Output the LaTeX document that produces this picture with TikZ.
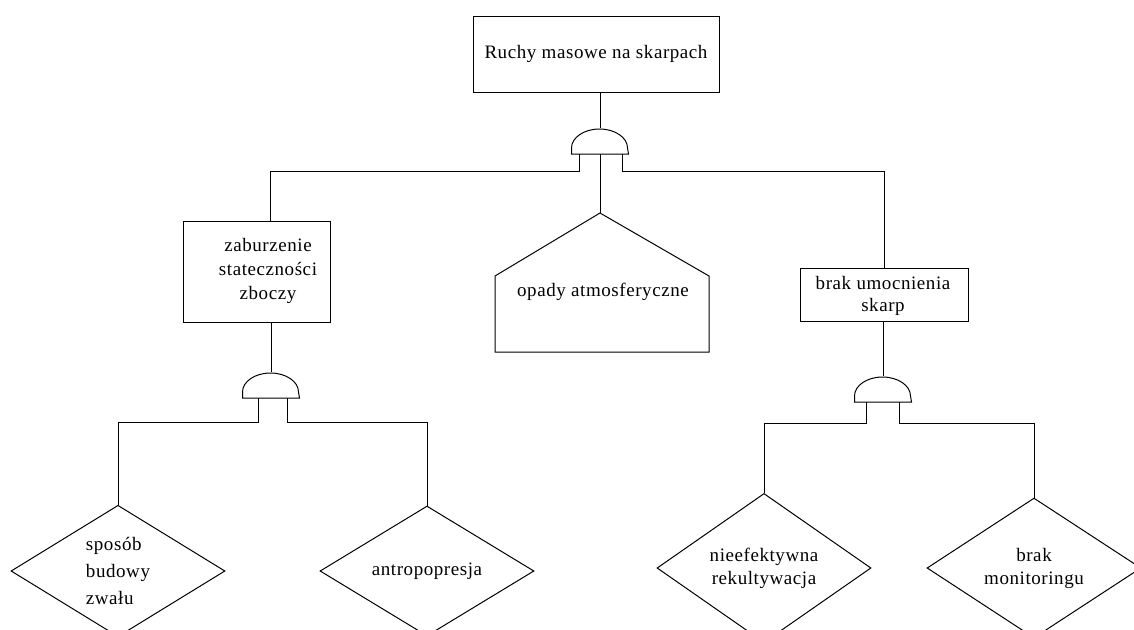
\documentclass[tikz,border=0pt]{standalone}
\usepackage{fontspec}
\setmainfont[LetterSpace=3]{Liberation Serif}
\usetikzlibrary{shapes.geometric}
\begin{document}
\begin{tikzpicture}[x=1pt,y=-1pt, line width=1pt,
  every node/.style={font=\fontsize{19}{24}\selectfont, inner sep=0pt},
  gate/.style={rectangle, minimum width=56pt, minimum height=25pt, anchor=north},
  basic/.style={draw, diamond, minimum width=214pt, minimum height=130pt},
  lbl/.style={align=center}]
\useasboundingbox (0,0) rectangle (1134,629);
\clip (0,0) rectangle (1134,629);
% top event
\node[draw, minimum width=246pt, minimum height=76pt] (top) at (596,54) {Ruchy masowe na skarpach};
\node[gate] (g1) at (600,128) {};
\draw (g1.south west) -- ++(0,-6) arc[start angle=180, end angle=0, x radius=28pt, y radius=19pt] -- (g1.south east) -- cycle;
\draw (g1.north) -- (g1.north |- top.south);
% intermediate events
\node[draw, minimum width=147pt, minimum height=101pt] (b2) at (256.5,271.5) {};
\node[lbl, font=\fontsize{19}{24}\selectfont] (t2) at (268,271) {zaburzenie\\stateczności\\zboczy};
\node[draw, minimum width=168pt, minimum height=53pt] (b3) at (884,294.5) {};
\node[lbl, font=\fontsize{19}{22}\selectfont] (t3) at (883,296) {brak umocnienia\\skarp};
% house / pentagon
\coordinate (ptop) at (600,213);
\draw (ptop) -- (495,276) -- (495,352) -- (709,352) -- (709,276) -- cycle;
\node (t4) at (603,292) {opady atmosferyczne};
% connectors from top gate
\draw ([xshift=-21pt]g1.south) -- ++(0,17) -| ([xshift=13.5pt]b2.north);
\draw ([xshift=22pt]g1.south) -- ++(0,17) -| (b3.north);
\draw (g1.south) -- (ptop);
% gate 2
\node[gate] (g2) at (271,372) {};
\draw (g2.south west) -- ++(0,-6) arc[start angle=180, end angle=0, x radius=28pt, y radius=19pt] -- (g2.south east) -- cycle;
\draw (g2.north) -- (g2.north |- b2.south);
% gate 3
\node[gate] (g3) at (883,376) {};
\draw (g3.south west) -- ++(0,-6) arc[start angle=180, end angle=0, x radius=28pt, y radius=19pt] -- (g3.south east) -- cycle;
\draw (g3.north) -- (g3.north |- b3.south);
% basic events
\node[basic, align=left, font=\fontsize{19}{27}\selectfont] (d1) at (118,571) {sposób\\budowy\\zwału};
\node[basic] (d2) at (427,571) {antropopresja};
\node[basic, align=center, font=\fontsize{19}{23}\selectfont] (d3) at (764,568) {nieefektywna\\rekultywacja};
\node[basic, align=center, font=\fontsize{19}{23}\selectfont] (d4) at (1034,568) {brak\\monitoringu};
\draw ([xshift=-13pt]g2.south) -- ++(0,24) -| (d1.north);
\draw ([xshift=16pt]g2.south) -- ++(0,24) -| (d2.north);
\draw ([xshift=-17pt]g3.south) -- ++(0,21) -| (d3.north);
\draw ([xshift=16pt]g3.south) -- ++(0,21) -| (d4.north);
\end{tikzpicture}
\end{document}
